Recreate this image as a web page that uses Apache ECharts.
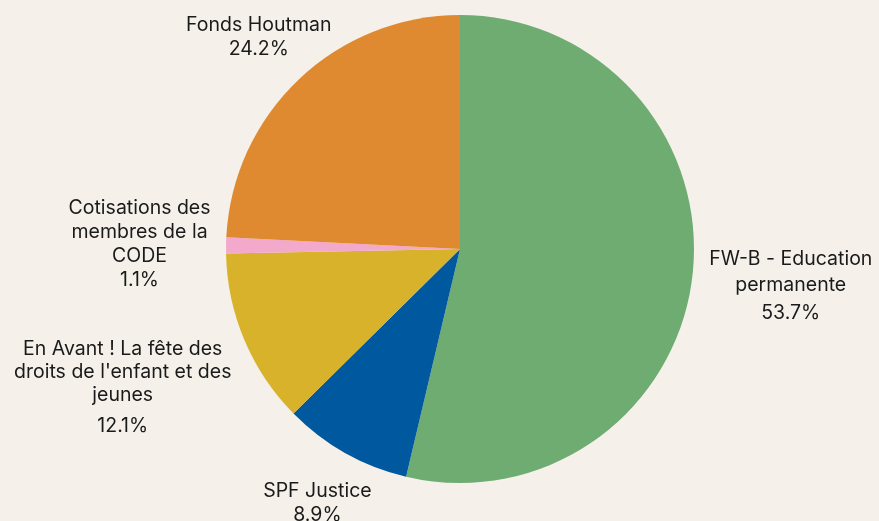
<!DOCTYPE html>
<html>
<head>
<meta charset="utf-8">
<script src="https://cdn.jsdelivr.net/npm/echarts@6/dist/echarts.min.js"></script>
<style>
html,body{margin:0;padding:0;background:#f5f1ea;}
#chart{width:879px;height:521px;}
</style>
</head>
<body>
<div id="chart"></div>
<script>
// Data (clockwise from 12 o'clock)
const categories = [
  "FW-B - Education permanente",
  "SPF Justice",
  "En Avant ! La fête des droits de l'enfant et des jeunes",
  "Cotisations des membres de la CODE",
  "Fonds Houtman"
];
const labelTexts = [
  "FW-B - Education\npermanente",
  "SPF Justice",
  "En Avant ! La fête des\ndroits de l'enfant et des\njeunes",
  "Cotisations des\nmembres de la\nCODE",
  "Fonds Houtman"
];
const values = [53.7, 8.9, 12.1, 1.1, 24.2];

// Styles
const colors = ["#6fac72", "#00589f", "#d9b22b", "#f2a9cb", "#df8a31"];
const labelGaps = [15, 12, 11, 15, -7];
const nameLineHeights = [26, 24, 23, 24, 24];
const pctStyles = ['q', 'p', 'r', 'p', 'p'];

const CX = 460, CY = 249, R = 234;
const total = values.reduce((a, b) => a + b, 0);
const midAngles = [];
let cum = 0;
values.forEach(v => { midAngles.push((cum + v / 2) / total * 2 * Math.PI); cum += v; });

const FONT = 'Inter, "Noto Sans", sans-serif';
const chart = echarts.init(document.getElementById('chart'), null, {renderer: 'canvas'});
chart.setOption({
  backgroundColor: '#f5f1ea',
  animation: false,
  series: [{
    type: 'pie',
    center: [CX, CY],
    radius: [0, R],
    startAngle: 90,
    clockwise: true,
    avoidLabelOverlap: false,
    data: categories.map((c, i) => ({
      name: c, value: values[i],
      itemStyle: {color: colors[i]},
      label: {lineHeight: nameLineHeights[i]}
    })),
    label: {
      show: true,
      position: 'outside',
      color: '#1a1a1a',
      fontFamily: FONT,
      fontSize: 19.5,
      lineHeight: 24,
      align: 'center',
      formatter: p => labelTexts[p.dataIndex] + '\n{' + pctStyles[p.dataIndex] + '|' + p.percent.toFixed(1) + '%}',
      rich: {
        p: {fontSize: 19.5, lineHeight: 24, color: '#1a1a1a', fontFamily: FONT},
        q: {fontSize: 19.5, lineHeight: 31, color: '#1a1a1a', fontFamily: FONT},
        r: {fontSize: 19.5, lineHeight: 38, color: '#1a1a1a', fontFamily: FONT}
      }
    },
    labelLine: {show: false},
    emphasis: {disabled: true},
    labelLayout: function (params) {
      const i = params.dataIndex;
      const a = midAngles[i];
      const dx = Math.sin(a), dy = -Math.cos(a);
      const hw = params.labelRect.width / 2, hh = params.labelRect.height / 2;
      let t = 0;
      for (; t < 800; t += 0.5) {
        let px = t * dx, py = t * dy;
        let cxp = Math.abs(px) > hw ? px - Math.sign(px) * hw : 0;
        let cyp = Math.abs(py) > hh ? py - Math.sign(py) * hh : 0;
        if (Math.hypot(cxp, cyp) >= R + labelGaps[i]) break;
      }
      return {
        x: CX + t * dx,
        y: CY + t * dy,
        align: 'center',
        verticalAlign: 'middle'
      };
    }
  }]
});
</script>
</body>
</html>
